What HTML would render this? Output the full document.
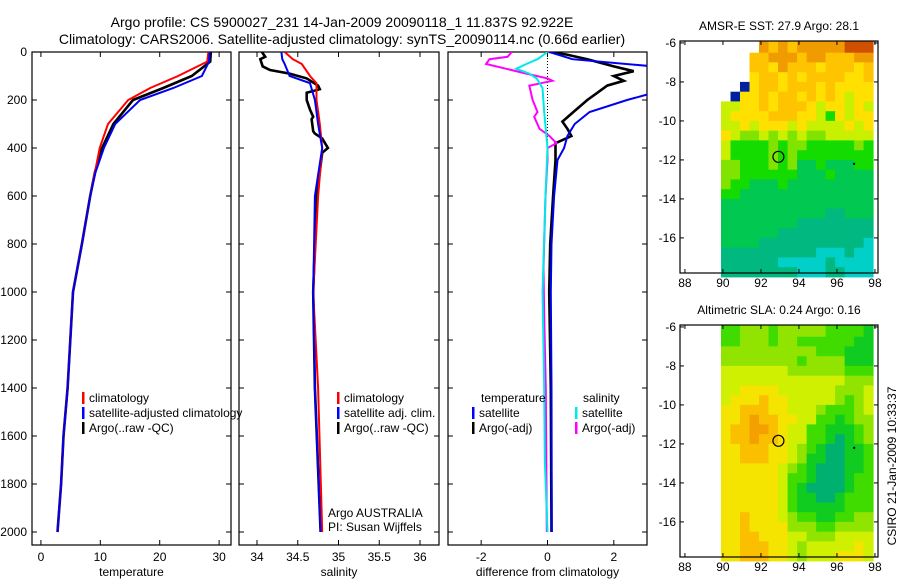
<!DOCTYPE html>
<html><head><meta charset="utf-8">
<style>
html,body{margin:0;padding:0;background:#fff;}
svg{display:block;font-family:"Liberation Sans",sans-serif;}
text{font-size:12px;fill:#000;}
</style></head>
<body>
<svg id="chart" width="900" height="580" viewBox="0 0 900 580" xmlns="http://www.w3.org/2000/svg">
<text x="342" y="27" text-anchor="middle" style="font-size:14px">Argo profile: CS 5900027_231 14-Jan-2009 20090118_1 11.837S 92.922E</text>
<text x="342" y="44" text-anchor="middle" style="font-size:14px">Climatology: CARS2006. Satellite-adjusted climatology: synTS_20090114.nc (0.66d earlier)</text>
<g id="g"></g>
</svg>
<script>
// ---- profile data ----
const tDepth = [0,40,100,150,200,300,400,500,600,800,1000,1400,1600,1800,2000];
const tClim  = [28.2,28.0,23.1,18.4,14.7,11.3,9.9,9.1,8.3,6.9,5.4,4.5,3.8,3.4,2.8];
const tSat   = [28.4,28.3,27.1,22.3,16.7,12.5,10.6,9.2,8.3,6.9,5.4,4.5,3.8,3.4,2.8];
const tArgo  = [28.6,28.5,25.4,20.6,15.5,12.2,10.3,9.1,8.3,6.9,5.4,4.5,3.8,3.4,2.8];
const sDepthC = [0,30,50,100,130,200,300,400,600,800,1000,1400,2000];
const sClim   = [34.34,34.44,34.55,34.65,34.73,34.73,34.77,34.8,34.75,34.72,34.69,34.75,34.8];
const sSat    = [34.3,34.31,34.34,34.4,34.65,34.71,34.75,34.8,34.71,34.7,34.69,34.71,34.78];
const sDepthA = [0,20,30,60,75,90,110,140,155,170,200,240,270,280,330,340,360,400,420,500,600,800,1000,1400,2000];
const sArgo   = [34.06,34.1,34.04,34.07,34.16,34.4,34.61,34.75,34.77,34.61,34.61,34.65,34.69,34.67,34.69,34.71,34.8,34.87,34.8,34.77,34.73,34.71,34.69,34.71,34.78];
const dDepthT = [0,30,60,170,200,250,300,350,400,450,600,800,1000,1400,2000];
const dTSat   = [0.06,0.75,3.2,3.2,2.4,1.27,0.82,0.6,0.5,0.3,0.2,0.12,0.1,0.12,0.13];
const dDepthA = [0,10,30,60,80,100,120,140,170,200,250,290,320,350,380,400,450,600,800,1000,1400,2000];
const dTArgo  = [0.06,0.55,1.2,2.0,2.6,2.0,2.3,1.8,1.5,1.2,0.78,0.45,0.6,0.72,0.24,0.24,0.24,0.17,0.08,0.05,0.1,0.12];
const dDepthS = [0,20,30,50,70,90,110,120,140,200,250,270,320,350,380,400,450,600,900,1100,1400,2000];
const dSArgo  = [-1.08,-1.2,-1.75,-1.85,-1.24,-0.64,0,0.15,-0.55,-0.45,-0.3,-0.4,-0.24,0.06,0.27,0,0,-0.06,-0.12,-0.1,-0.05,-0.02];
const dDepthSS = [0,30,50,70,90,110,150,250,400,600,1000,1400,1700,2000];
const dSSat    = [0,-0.3,-0.64,-0.94,-0.55,-0.33,-0.15,-0.1,0,-0.06,-0.15,-0.1,-0.08,0];
const depthTicks = [0,200,400,600,800,1000,1200,1400,1600,1800,2000];
const tTicks = [0,10,20,30];
const sTicks = [34,34.5,35,35.5,36];
const sTickLabels = ["34","34.5","35","35.5","36"];
const dTicks = [-2,0,2];
// ---- map data (0.5 deg cells, lon 90..98, lat -6..-18) ----
const sstRows = [
"....878788888999","...7788878877788","...7768777677767","...6776767777667",
"..b6776777676666",".b66767767676566","5566767776566565","5666677766536566",
"5565666565555656","6544545454455555","5333343443333343","5333343433333333",
"4433343422322233","4433333322232222","4332223222222222","3322222222222222",
"2222222222222222","2222222222211222","2222222211111111","2222221111111111",
"2222111111111110","1111111111000100","1111110000010000","1111111100011000"];
const slaRows = [
"3344434444433332","3344434433333322","4444444444333222","4444444434444222",
"5555555444444333","5555555555555444","5566665555554445","5666766555554345",
"6677766555433345","6678776655332344","6778876553322234","6778776553321234",
"6677766543211223","6677766542211223","6666665432111223","6666665332111233",
"6666665321111233","6666665322112333","6666665322222333","6676665433223344",
"6676666444334444","6677666554445555","6677766545555565","6677766545556665"];
const sstColors = {"0":"#00d0c8","1":"#00b880","2":"#00c850","3":"#14dc00","4":"#80e400","5":"#c8f000","6":"#ffe000","7":"#ffc400","8":"#f09c00","9":"#d05000","b":"#0020a0"};
const slaColors = {"1":"#00b070","2":"#10cc20","3":"#40dc00","4":"#90e400","5":"#cff000","6":"#f4e400","7":"#fac000","8":"#f4a000"};
const lonTicks=[88,90,92,94,96,98];
const latTicks=[-6,-8,-10,-12,-14,-16];
const latTickLabels=["-6","-8","-10","-12","-14","-16"];

const NS="http://www.w3.org/2000/svg";
const G=document.getElementById('g');
function mk(tag,attrs,parent){const e=document.createElementNS(NS,tag);for(const k in attrs)e.setAttribute(k,attrs[k]);(parent||G).appendChild(e);return e;}
function lin(d0,d1,r0,r1){return v=>r0+(v-d0)*(r1-r0)/(d1-d0);}
const PT=52,PB=545;
const yD=lin(0,2000,52,532);

function panel(name,x0,x1,xs,ticks,labels,title){
  const g=mk('g',{});
  
  
  const r=mk('rect',{x:x0,y:PT,width:x1-x0,height:PB-PT,fill:'none',stroke:'#000','stroke-width':1.2},g);
  
  
  depthTicks.forEach(d=>{
    mk('line',{x1:x0,x2:x0+5,y1:yD(d),y2:yD(d),stroke:'#000'},g);
    mk('line',{x1:x1-5,x2:x1,y1:yD(d),y2:yD(d),stroke:'#000'},g);
  });
  ticks.forEach((t,i)=>{
    const x=xs(t);
    mk('line',{x1:x,x2:x,y1:PT,y2:PT+5,stroke:'#000'},g);
    mk('line',{x1:x,x2:x,y1:PB-5,y2:PB,stroke:'#000'},g);
    const tx=mk('text',{x:x,y:561,'text-anchor':'middle'},g);
    tx.textContent=labels[i];
    
    
  });
  const tt=mk('text',{x:(x0+x1)/2,y:576,'text-anchor':'middle'},g);
  tt.textContent=title;
  
  
  return g;
}
function line(g,name,xs,xsArr,ds,color,w){
  const pts=xsArr.map((v,i)=>xs(v).toFixed(1)+','+yD(ds[i]).toFixed(1)).join(' ');
  const p=mk('polyline',{points:pts,fill:'none',stroke:color,'stroke-width':w,'clip-path':'url(#'+name.split('-')[0]+'clip)'},g);
  
  
}
function clip(id,x0,x1){const d=mk('clipPath',{id:id});mk('rect',{x:x0,y:PT,width:x1-x0,height:PB-PT},d);}
function legend(g,x,y,items){
  items.forEach((it,i)=>{
    if(it[1]) mk('rect',{x:x,y:y+i*15-10,width:2.5,height:12,fill:it[1]},g);
    const t=mk('text',{x:x+(it[1]?7:0),y:y+i*15},g);
    t.textContent=it[0];
    
    
  });
}
depthTicks.forEach(d=>{
  const t=mk('text',{x:27,y:yD(d)+4,'text-anchor':'end'});
  t.textContent=d;
  
  
});
const xT=lin(-1.5,32,32,231);
clip('tempclip',32,231);
const p1=panel('temp-panel',32,231,xT,tTicks,tTicks.map(String),'temperature');
line(p1,'temp-argo-line',xT,tArgo,tDepth,'#000',2.6);
line(p1,'temp-clim-line',xT,tClim,tDepth,'#f00',2);
line(p1,'temp-sat-line',xT,tSat,tDepth,'#0000f0',2);
legend(p1,82,402,[["climatology","#f00"],["satellite-adjusted climatology","#00f"],["Argo(..raw -QC)","#000"]]);
const xS=lin(34,36,257,420);
clip('salclip',239,439);
const p2=panel('sal-panel',239,439,xS,sTicks,sTickLabels,'salinity');
line(p2,'sal-argo-line',xS,sArgo,sDepthA,'#000',2.6);
line(p2,'sal-clim-line',xS,sClim,sDepthC,'#f00',2);
line(p2,'sal-sat-line',xS,sSat,sDepthC,'#0000f0',2);
legend(p2,337,402,[["climatology","#f00"],["satellite adj. clim.","#00f"],["Argo(..raw -QC)","#000"]]);
const a1=mk('text',{x:328,y:517},p2);a1.textContent='Argo AUSTRALIA';
const a2=mk('text',{x:328,y:531},p2);a2.textContent='PI: Susan Wijffels';
const xDf=lin(-3,3,448,647);
clip('diffclip',448,647);
const p3=panel('diff-panel',448,647,xDf,dTicks,dTicks.map(String),'difference from climatology');
mk('line',{x1:xDf(0),x2:xDf(0),y1:PT,y2:PT+110,stroke:'#000','stroke-dasharray':'1,2'},p3);
line(p3,'diff-temp-argo-line',xDf,dTArgo,dDepthA,'#000',2.6);
line(p3,'diff-temp-sat-line',xDf,dTSat,dDepthT,'#0000f0',2);
line(p3,'diff-sal-argo-line',xDf,dSArgo,dDepthS,'#ff00ff',2);
line(p3,'diff-sal-sat-line',xDf,dSSat,dDepthSS,'#00e8e8',2);
legend(p3,481,402,[["temperature",null]]);
legend(p3,472,417,[["satellite","#00f"],["Argo(-adj)","#000"]]);
legend(p3,583,402,[["salinity",null]]);
legend(p3,575,417,[["satellite","#00e8e8"],["Argo(-adj)","#f0f"]]);

function map(name,top,rows,colors,title){
  const L=680,R=878,B=top+232;
  const xL=lin(87.74,98.16,L,R), yL=lin(-5.9,-17.8,top,B);
  const g=mk('g',{});
  
  
  rows.forEach((row,ri)=>{
    for(let ci=0;ci<row.length;ci++){
      const c=row[ci]; if(c==='.')continue;
      const lon=89.9+ci*0.5, lat=-6-ri*0.5;
      const x=xL(lon), y=ri===0?top:yL(lat);
      const w=Math.min(xL(lon+0.5),R)-x+0.5, h=yL(lat-0.5)-y+0.5;
      const r=mk('rect',{x:x.toFixed(1),y:y.toFixed(1),width:w.toFixed(1),height:h.toFixed(1),fill:colors[c]},g);
      
      
    }
  });
  mk('rect',{x:L,y:top,width:R-L,height:B-top,fill:'none',stroke:'#000','stroke-width':1.2},g);
  lonTicks.forEach(v=>{
    const x=xL(v);
    mk('line',{x1:x,x2:x,y1:top,y2:top+4,stroke:'#000'},g);
    mk('line',{x1:x,x2:x,y1:B-4,y2:B,stroke:'#000'},g);
    const t=mk('text',{x:x,y:B+14,'text-anchor':'middle'},g);t.textContent=v;
    
    
  });
  latTicks.forEach((v,i)=>{
    const y=yL(v);
    mk('line',{x1:L,x2:L+4,y1:y,y2:y,stroke:'#000'},g);
    mk('line',{x1:R-4,x2:R,y1:y,y2:y,stroke:'#000'},g);
    const t=mk('text',{x:676,y:y+4,'text-anchor':'end'},g);t.textContent=latTickLabels[i];
    
    
  });
  mk('circle',{cx:xL(92.92),cy:yL(-11.84),r:5.5,fill:'none',stroke:'#000','stroke-width':1.2},g);
  mk('rect',{x:xL(96.85),y:yL(-12.15),width:2,height:2,fill:'#000'},g);
  const tt=mk('text',{x:(L+R)/2,y:top-11,'text-anchor':'middle'},g);tt.textContent=title;
  
  
}
map('sst-map',41,sstRows,sstColors,'AMSR-E SST: 27.9 Argo: 28.1');
map('sla-map',325,slaRows,slaColors,'Altimetric SLA: 0.24 Argo: 0.16');
const st=mk('text',{x:0,y:0,'text-anchor':'middle',transform:'translate(896,466) rotate(-90)'});
st.textContent='CSIRO 21-Jan-2009 10:33:37';


</script>
</body></html>
